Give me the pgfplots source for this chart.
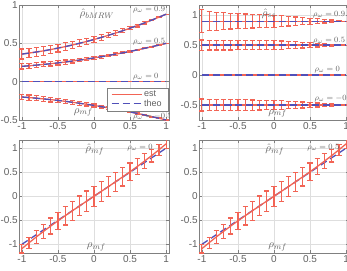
\documentclass[border=0pt]{standalone}
\usepackage{fontspec}
\usepackage{pgfplots}
\pgfplotsset{compat=1.18}
\usepackage{pgfplotstable}
\newfontfamily\helv{Liberation Sans}

\definecolor{estred}{RGB}{242,100,85}
\definecolor{theoblue}{RGB}{80,80,185}

% bMRW panel: estimated means and spreads for rho_omega = 0.9, 0.5, 0, -0.5
\pgfplotstableread{
x     m9     e9     m5     e5     m0  mn5     en5
-1.0  0.360  0.065  0.200  0.035  0  -0.200  0.035
-0.9  0.373  0.062  0.207  0.034  0  -0.207  0.034
-0.8  0.387  0.060  0.216  0.032  0  -0.216  0.032
-0.7  0.402  0.057  0.225  0.031  0  -0.225  0.031
-0.6  0.419  0.055  0.234  0.030  0  -0.234  0.030
-0.5  0.438  0.052  0.245  0.028  0  -0.245  0.028
-0.4  0.457  0.050  0.256  0.027  0  -0.256  0.027
-0.3  0.478  0.047  0.269  0.025  0  -0.269  0.025
-0.2  0.501  0.045  0.282  0.024  0  -0.282  0.024
-0.1  0.525  0.042  0.295  0.022  0  -0.295  0.022
 0.0  0.550  0.040  0.310  0.020  0  -0.310  0.020
 0.1  0.577  0.037  0.325  0.018  0  -0.325  0.018
 0.2  0.605  0.033  0.342  0.016  0  -0.342  0.016
 0.3  0.634  0.030  0.359  0.014  0  -0.359  0.014
 0.4  0.665  0.026  0.376  0.012  0  -0.376  0.012
 0.5  0.698  0.022  0.395  0.010  0  -0.395  0.010
 0.6  0.731  0.018  0.414  0.008  0  -0.414  0.008
 0.7  0.766  0.014  0.435  0.006  0  -0.435  0.006
 0.8  0.803  0.010  0.456  0.004  0  -0.456  0.004
 0.9  0.841  0.005  0.477  0.002  0  -0.477  0.002
 1.0  0.880  0.000  0.500  0.000  0  -0.500  0.000
}\tabbmrw

% ss panel
\pgfplotstableread{
x     m9    e9     m5    e5     m0  mn5    en5
-1.0  0.9   0.190  0.5   0.085  0  -0.5   0.100
-0.9  0.9   0.160  0.5   0.082  0  -0.5   0.095
-0.8  0.9   0.150  0.5   0.080  0  -0.5   0.095
-0.7  0.9   0.140  0.5   0.080  0  -0.5   0.090
-0.6  0.9   0.130  0.5   0.080  0  -0.5   0.090
-0.5  0.9   0.125  0.5   0.078  0  -0.5   0.090
-0.4  0.9   0.120  0.5   0.077  0  -0.5   0.088
-0.3  0.9   0.115  0.5   0.076  0  -0.5   0.085
-0.2  0.9   0.110  0.5   0.075  0  -0.5   0.082
-0.1  0.9   0.105  0.5   0.074  0  -0.5   0.080
 0.0  0.9   0.100  0.5   0.072  0  -0.5   0.076
 0.1  0.9   0.090  0.5   0.068  0  -0.5   0.070
 0.2  0.9   0.080  0.5   0.062  0  -0.5   0.064
 0.3  0.9   0.070  0.5   0.055  0  -0.5   0.057
 0.4  0.9   0.060  0.5   0.048  0  -0.5   0.050
 0.5  0.9   0.050  0.5   0.040  0  -0.5   0.042
 0.6  0.9   0.040  0.5   0.032  0  -0.5   0.034
 0.7  0.9   0.030  0.5   0.024  0  -0.5   0.025
 0.8  0.9   0.020  0.5   0.016  0  -0.5   0.017
 0.9  0.9   0.010  0.5   0.008  0  -0.5   0.008
 1.0  0.9   0.000  0.5   0.000  0  -0.5   0.000
}\tabss

% mf panels: estimate, spread and theoretical value
\pgfplotstableread{
x     est     err    th
-1.0  -1.090  0.090  -1.0
-0.9  -0.966  0.113  -0.9
-0.8  -0.846  0.133  -0.8
-0.7  -0.731  0.151  -0.7
-0.6  -0.619  0.167  -0.6
-0.5  -0.511  0.180  -0.5
-0.4  -0.406  0.191  -0.4
-0.3  -0.302  0.199  -0.3
-0.2  -0.201  0.205  -0.2
-0.1  -0.100  0.209  -0.1
 0.0   0.000  0.210   0.0
 0.1   0.100  0.209   0.1
 0.2   0.201  0.205   0.2
 0.3   0.302  0.199   0.3
 0.4   0.406  0.191   0.4
 0.5   0.511  0.180   0.5
 0.6   0.619  0.167   0.6
 0.7   0.731  0.151   0.7
 0.8   0.846  0.133   0.8
 0.9   0.966  0.113   0.9
 1.0   1.090  0.090   1.0
}\tabmf

\pgfplotsset{
  panel/.style={
    scale only axis, width=150pt,
    xmin=-1.04, xmax=1.04, xtick={-1,-0.5,0,0.5,1},
    tick align=inside, major tick length=3pt,
    grid=major, major grid style={black!13, line width=0.4pt},
    axis line style={black!50, line width=0.5pt},
    tick style={black!50, line width=0.4pt},
    ticklabel style={font=\helv\fontsize{10}{12}\selectfont, text=black!62},
    /pgf/number format/assume math mode=true,
    yticklabel style={inner sep=1pt},
    xticklabel style={inner sep=2pt},
  },
  est/.style={color=estred, line width=1.3pt, forget plot},
  theo/.style={color=theoblue, line width=1.3pt, dash pattern=on 7pt off 4pt, forget plot},
  ebar/.style={error bars/.cd, y dir=both, y explicit,
    error bar style={color=estred, line width=1.2pt, solid},
    error mark options={color=estred, rotate=90, mark size=2.6pt, line width=1.2pt}},
}
\tikzset{
  lab/.style={text=black!62, font=\fontsize{11}{13}\selectfont, inner sep=0pt},
  wlab/.style={text=black!62, font=\fontsize{8}{10}\selectfont, anchor=west, inner sep=0pt},
}

\begin{document}
\begin{tikzpicture}

% top left: bMRW
\begin{axis}[panel, at={(19pt,-5pt)}, anchor=north west, height=115pt,
  ymin=-0.5, ymax=1, ytick={-0.5,0,0.5,1},
  legend style={at={(0.993,0.078)}, anchor=south east, draw=black!50,
    font=\helv\fontsize{9}{10}\selectfont, text=black!62,
    inner xsep=4pt, inner ysep=1pt, row sep=-2.5pt, fill=white},
  legend cell align=left,
  legend image code/.code={\draw[#1] (0pt,0pt) -- (30pt,0pt);}]
  \addplot[est, ebar] table[x=x, y=m9, y error=e9] {\tabbmrw};
  \addplot[theo] table[x=x, y=m9] {\tabbmrw};
  \addplot[est, ebar] table[x=x, y=m5, y error=e5] {\tabbmrw};
  \addplot[theo] table[x=x, y=m5] {\tabbmrw};
  \addplot[est] table[x=x, y=m0] {\tabbmrw};
  \addplot[theo] table[x=x, y=m0] {\tabbmrw};
  \addplot[est, ebar] table[x=x, y=mn5, y error=en5] {\tabbmrw};
  \addplot[theo] table[x=x, y=mn5] {\tabbmrw};
  \node[lab] at (axis cs:0.04,0.88) {$\hat\rho_{bMRW}$};
  \node[lab] at (axis cs:-0.15,-0.40) {$\rho_{mf}$};
  \node[wlab] at (axis cs:0.54,0.935) {$\rho_\omega = 0.9$};
  \node[wlab] at (axis cs:0.54,0.52) {$\rho_\omega = 0.5$};
  \node[wlab] at (axis cs:0.54,0.065) {$\rho_\omega = 0$};
  \node[wlab] at (axis cs:0.54,-0.456) {$\rho_\omega = -0.5$};
  \addlegendimage{color=estred, line width=1.3pt}
  \addlegendentry{est\hspace{15pt}}
  \addlegendimage{color=theoblue, line width=1.3pt, dash pattern=on 7pt off 4pt}
  \addlegendentry{theo\hspace{15pt}}
\end{axis}

% top right: ss
\begin{axis}[panel, at={(199pt,-5pt)}, anchor=north west, height=115pt,
  ymin=-0.75, ymax=1.17, ytick={-0.5,0,0.5,1}]
  \addplot[est, ebar] table[x=x, y=m9, y error=e9] {\tabss};
  \addplot[theo] table[x=x, y=m9] {\tabss};
  \addplot[est, ebar] table[x=x, y=m5, y error=e5] {\tabss};
  \addplot[theo] table[x=x, y=m5] {\tabss};
  \addplot[est] table[x=x, y=m0] {\tabss};
  \addplot[theo] table[x=x, y=m0] {\tabss};
  \addplot[est, ebar] table[x=x, y=mn5, y error=en5] {\tabss};
  \addplot[theo] table[x=x, y=mn5] {\tabss};
  \node[lab] at (axis cs:-0.07,1.03) {$\hat\rho_{ss}$};
  \node[lab] at (axis cs:0.05,-0.64) {$\rho_{mf}$};
  \node[wlab] at (axis cs:0.54,1.0) {$\rho_\omega = 0.9$};
  \node[wlab] at (axis cs:0.54,0.58) {$\rho_\omega = 0.5$};
  \node[wlab] at (axis cs:0.56,0.095) {$\rho_\omega = 0$};
  \node[wlab] at (axis cs:0.56,-0.39) {$\rho_\omega = -0.5$};
\end{axis}

% bottom left: mf, rho_omega = 0
\begin{axis}[panel, at={(19pt,-140pt)}, anchor=north west, height=113pt,
  ymin=-1.18, ymax=1.17, ytick={-1,-0.5,0,0.5,1}]
  \addplot[theo] table[x=x, y=th] {\tabmf};
  \addplot[est, ebar] table[x=x, y=est, y error=err] {\tabmf};
  \node[lab] at (axis cs:0.01,0.965) {$\hat\rho_{mf}$};
  \node[lab] at (axis cs:0.03,-1.05) {$\rho_{mf}$};
  \node[wlab] at (axis cs:0.46,1.0) {$\rho_\omega = 0$};
\end{axis}

% bottom right: mf, rho_omega = 0.5
\begin{axis}[panel, at={(199pt,-140pt)}, anchor=north west, height=113pt,
  ymin=-1.18, ymax=1.17, ytick={-1,-0.5,0,0.5,1}]
  \addplot[theo] table[x=x, y=th] {\tabmf};
  \addplot[est, ebar] table[x=x, y=est, y error=err] {\tabmf};
  \node[lab] at (axis cs:0.01,0.965) {$\hat\rho_{mf}$};
  \node[lab] at (axis cs:0.05,-1.05) {$\rho_{mf}$};
  \node[wlab] at (axis cs:0.46,1.0) {$\rho_\omega = 0.5$};
\end{axis}

\pgfresetboundingbox
\path[use as bounding box] (0pt,0pt) rectangle (347pt,-270pt);
\end{tikzpicture}
\end{document}
